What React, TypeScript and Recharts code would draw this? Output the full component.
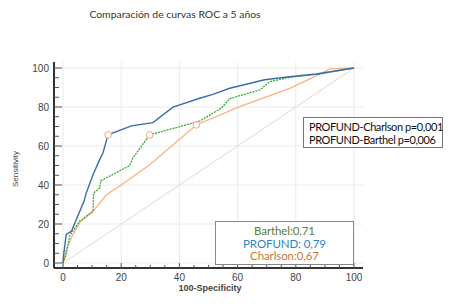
import { CartesianGrid, LineChart, Line, ReferenceDot, XAxis, YAxis } from "recharts";

// ROC curves (100-specificity, sensitivity)
const profundFpr = [0, 0.2, 1.1, 2.9, 7.2, 8, 10.3, 12.6, 13.7, 15.5, 23.5, 30.9, 37.8, 47, 51.5, 57.3, 69.3, 77.9, 87, 100];
const profundTpr = [0, 4, 14.6, 16.3, 31.6, 35.9, 45.3, 53, 56.3, 65.7, 70.3, 72, 79.9, 84.5, 86.5, 89.6, 94, 95.5, 96.9, 100];

const barthelFpr = [0, 1.1, 2.3, 5.7, 10.3, 10.5, 12.6, 13, 22.9, 24, 29.8, 47, 54.4, 57.3, 67.6, 71, 77.9, 88.2, 100];
const barthelTpr = [0, 4.3, 14, 21.4, 26.5, 35.9, 38.4, 42.2, 49.9, 53.8, 65.7, 72.8, 79.4, 84.3, 88.7, 93, 95.2, 96.9, 100];

const charlsonFpr = [0, 1.1, 3.4, 5.7, 10.3, 14.9, 20, 29.8, 45.8, 60.7, 77.9, 83.6, 89.9, 91.6, 100];
const charlsonTpr = [0, 6.9, 14.6, 20.6, 26.5, 35, 40, 50.4, 70.8, 80.2, 89.6, 93.5, 98.1, 99.5, 100];

// optimal cut-off points (one per curve)
const cutFpr = [15.5, 29.8, 45.8];
const cutTpr = [65.7, 65.7, 70.8];

const tickValues = [0, 5, 10, 15, 20, 25, 30, 35, 40, 45, 50, 55, 60, 65, 70, 75, 80, 85, 90, 95, 100];
const gridValues = [0, 20, 40, 60, 80, 100];

const toPoints = (xs: number[], ys: number[]) => xs.map((x, i) => ({ x, y: ys[i] }));

const profund = toPoints(profundFpr, profundTpr);
const barthel = toPoints(barthelFpr, barthelTpr);
const charlson = toPoints(charlsonFpr, charlsonTpr);
const diagonal = toPoints([0, 100], [0, 100]);

const tickFont = { fontFamily: "Liberation Sans, Arial, sans-serif", fontSize: 10, fill: "#444" };

// major ticks every 20 carry a label, minor ones every 5 are short marks pointing inward
function XTick(props: any) {
  const { x, y, payload } = props;
  const major = payload.value % 20 === 0;
  return (
    <g>
      <line x1={x} x2={x} y1={y} y2={y - (major ? 5 : 3)} stroke="#555" />
      <text x={x} y={y + 12.5} textAnchor="middle" {...tickFont}>
        {major ? String(payload.value) : ""}
      </text>
    </g>
  );
}

function YTick(props: any) {
  const { x, y, payload } = props;
  const major = payload.value % 20 === 0;
  return (
    <g>
      <line x1={x} x2={x + (major ? 8 : 5)} y1={y} y2={y} stroke="#555" />
      <text x={x - 5} y={y + 3.5} textAnchor="end" {...tickFont}>
        {major ? String(payload.value) : ""}
      </text>
    </g>
  );
}

export default function App() {
  return (
    <div style={{ position: "absolute", left: 0, top: 0, width: 454, height: 305, background: "#fff" }}>
      <div
        style={{
          position: "absolute",
          left: 0,
          width: 350,
          top: 8,
          textAlign: "center",
          fontFamily: "Lato, sans-serif",
          fontSize: 10.4,
          color: "#333",
        }}
      >
        Comparación de curvas ROC a 5 años
      </div>

      <LineChart width={454} height={305} data={profund} margin={{ top: 62, right: 91, bottom: 7, left: 14 }}>
        <CartesianGrid stroke="#ececec" horizontalValues={gridValues} verticalValues={gridValues} />
        <XAxis
          type="number"
          dataKey="x"
          domain={[0, 100]}
          ticks={tickValues}
          interval={0}
          padding={{ left: 9, right: 9 }}
          height={30}
          tickSize={0}
          tickMargin={0}
          tickLine={false}
          axisLine={{ stroke: "#333", strokeWidth: 2 }}
          tick={<XTick />}
        />
        <YAxis
          type="number"
          dataKey="y"
          domain={[0, 100]}
          ticks={tickValues}
          interval={0}
          padding={{ top: 6, bottom: 5 }}
          width={40}
          tickSize={0}
          tickMargin={0}
          tickLine={false}
          axisLine={{ stroke: "#333", strokeWidth: 2 }}
          tick={<YTick />}
        />
        <Line data={diagonal} dataKey="y" stroke="#ebd3d3" strokeWidth={1} dot={false} isAnimationActive={false} />
        <Line data={charlson} dataKey="y" stroke="#f5b383" strokeWidth={1.3} dot={false} isAnimationActive={false} />
        <Line data={barthel} dataKey="y" stroke="#3aa83a" strokeWidth={1.3} strokeDasharray="2 1" dot={false} isAnimationActive={false} />
        <Line data={profund} dataKey="y" stroke="#3a6ea8" strokeWidth={1.4} dot={false} isAnimationActive={false} />
        {cutFpr.map((x, i) => (
          <ReferenceDot key={i} x={x} y={cutTpr[i]} r={3.3} fill="#fff" stroke="#f0a878" strokeWidth={1} />
        ))}
      </LineChart>

      <div
        style={{
          position: "absolute",
          left: 0,
          top: 158,
          width: 30,
          height: 22,
          display: "flex",
          alignItems: "center",
          justifyContent: "center",
          transform: "rotate(-90deg)",
          fontFamily: "Liberation Sans, Arial, sans-serif",
          fontSize: 8,
          color: "#444",
          whiteSpace: "nowrap",
        }}
      >
        Sensitivity
      </div>
      <div
        style={{
          position: "absolute",
          left: 150,
          width: 120,
          top: 283,
          textAlign: "center",
          fontFamily: "Liberation Sans, Arial, sans-serif",
          fontSize: 9,
          fontWeight: "bold",
          color: "#444",
        }}
      >
        100-Specificity
      </div>

      <div
        style={{
          position: "absolute",
          left: 303,
          top: 117,
          width: 140,
          height: 31,
          border: "1px solid #777",
          background: "#fff",
          fontFamily: "Lato, sans-serif",
          fontSize: 11,
          letterSpacing: -0.4,
          lineHeight: "13px",
          color: "#111",
          paddingLeft: 5,
          paddingTop: 2,
          boxSizing: "border-box",
          whiteSpace: "nowrap",
        }}
      >
        <div>PROFUND-Charlson p=0,001</div>
        <div>PROFUND-Barthel p=0,006</div>
      </div>

      <div
        style={{
          position: "absolute",
          left: 215,
          top: 221,
          width: 139,
          height: 44,
          border: "1px solid #888",
          background: "#fff",
          fontFamily: "Lato, sans-serif",
          fontSize: 11.5,
          letterSpacing: -0.1,
          lineHeight: "12.7px",
          textAlign: "center",
          paddingTop: 3,
          boxSizing: "border-box",
        }}
      >
        <div style={{ color: "#5b7b3a" }}>Barthel:0,71</div>
        <div style={{ color: "#2e86c1" }}>PROFUND: 0,79</div>
        <div style={{ color: "#c8783b" }}>Charlson:0,67</div>
      </div>
    </div>
  );
}
